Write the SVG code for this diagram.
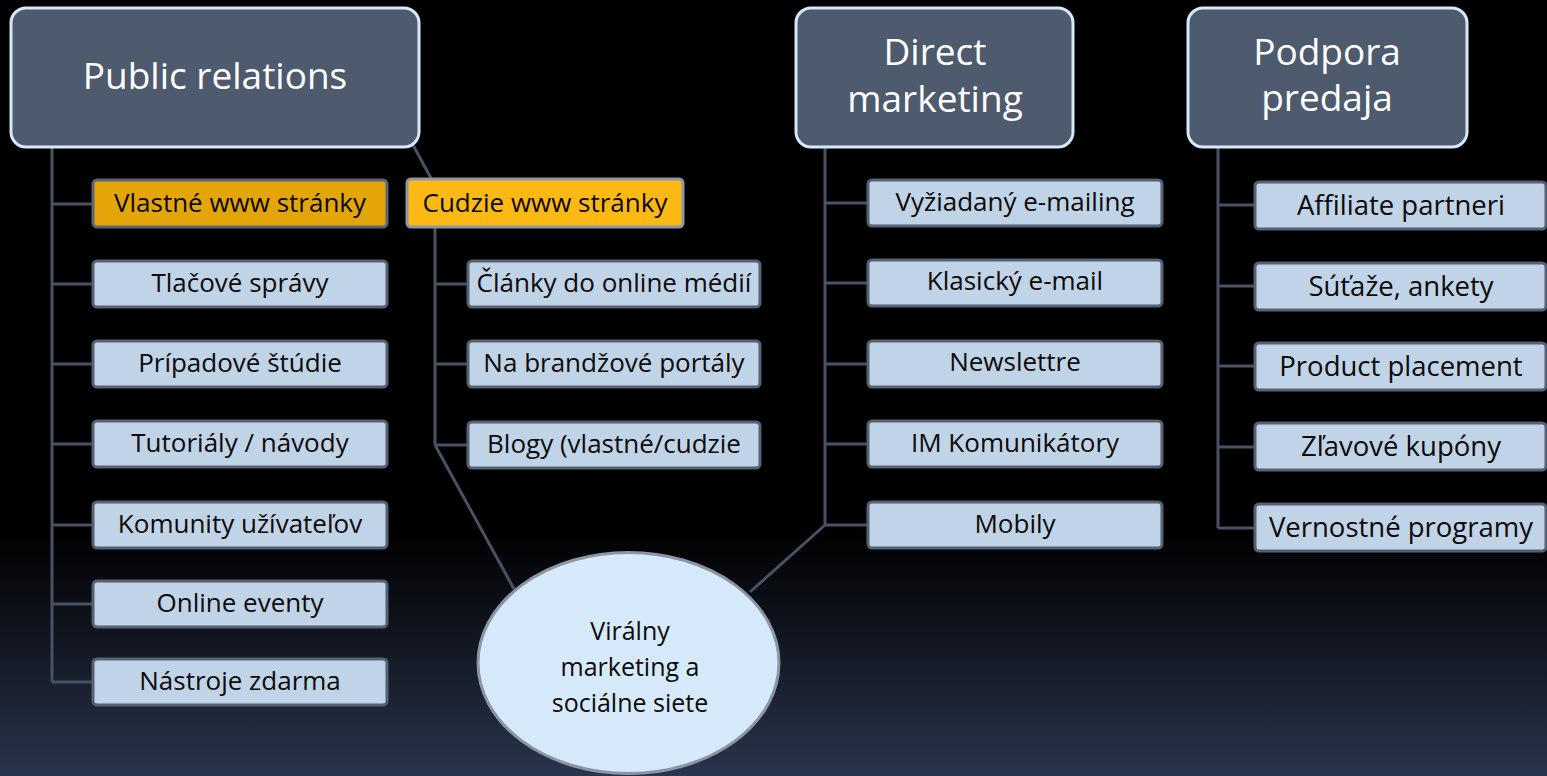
<svg xmlns="http://www.w3.org/2000/svg" width="1547" height="776" viewBox="0 0 1547 776">
  <defs>
    <linearGradient id="bg" x1="0" y1="0" x2="0" y2="1">
      <stop offset="0" stop-color="#000000"/>
      <stop offset="0.68" stop-color="#000000"/>
      <stop offset="0.84" stop-color="#131924"/>
      <stop offset="1" stop-color="#29354c"/>
    </linearGradient>
    <style>
      .hdr { fill: #4e5a6d; stroke: #d4eafa; stroke-width: 3; }
      .hdrt { font-family: "Open Sans", "Liberation Sans", sans-serif; font-size: 37px; fill: #ffffff; text-anchor: middle; }
      .box { fill: #c1d3e6; stroke: #556174; stroke-width: 3; }
      .boxt { font-family: "Open Sans", "Liberation Sans", sans-serif; font-size: 26px; fill: #0a0a0a; text-anchor: middle; }
      .boxt2 { font-family: "Open Sans", "Liberation Sans", sans-serif; font-size: 27.5px; fill: #0a0a0a; text-anchor: middle; }
      .vt { font-family: "Open Sans", "Liberation Sans", sans-serif; font-size: 25px; fill: #0a0a0a; text-anchor: middle; }
      .conn { stroke: #485264; stroke-width: 3; fill: none; }
    </style>
  </defs>
  <rect x="0" y="0" width="1547" height="776" fill="url(#bg)"/>

  <g id="connectors">
    <path class="conn" d="M52 147 V682 M52 204 H93 M52 284 H93 M52 364 H93 M52 444 H93 M52 525 H93 M52 604 H93 M52 682 H93"/>
    <path class="conn" d="M413 145 L432 180"/>
    <path class="conn" d="M435 227 V445 M435 284 H468 M435 364 H468 M435 445 H468 M435 445 L514 589"/>
    <path class="conn" d="M825 147 V525 M825 203 H868 M825 283 H868 M825 364 H868 M825 444 H868 M825 525 H868 M825 525 L750 592"/>
    <path class="conn" d="M1218 147 V528 M1218 205 H1255 M1218 286 H1255 M1218 366 H1255 M1218 447 H1255 M1218 528 H1255"/>
  </g>

  <g id="pr">
    <rect class="hdr" x="11" y="8" width="408" height="139" rx="15"/>
    <text class="hdrt" x="215" y="89">Public relations</text>
  </g>
  <g id="vlastne">
    <rect x="93" y="180" width="294" height="47" rx="4" fill="#e3a508" stroke="#5a6578" stroke-width="3"/>
    <text class="boxt" x="240" y="212">Vlastné www stránky</text>
  </g>
  <g id="cudzie">
    <rect x="407" y="179" width="276" height="48" rx="4" fill="#fdb913" stroke="#8d97a8" stroke-width="3"/>
    <text class="boxt" x="545" y="212">Cudzie www stránky</text>
  </g>
  <g id="pr1"><rect class="box" x="93" y="261" width="294" height="46" rx="4"/><text class="boxt" x="240" y="292">Tlačové správy</text></g>
  <g id="pr2"><rect class="box" x="93" y="341" width="294" height="46" rx="4"/><text class="boxt" x="240" y="372">Prípadové štúdie</text></g>
  <g id="pr3"><rect class="box" x="93" y="421" width="294" height="46" rx="4"/><text class="boxt" x="240" y="452">Tutoriály / návody</text></g>
  <g id="pr4"><rect class="box" x="93" y="502" width="294" height="46" rx="4"/><text class="boxt" x="240" y="533">Komunity užívateľov</text></g>
  <g id="pr5"><rect class="box" x="93" y="581" width="294" height="46" rx="4"/><text class="boxt" x="240" y="612">Online eventy</text></g>
  <g id="pr6"><rect class="box" x="93" y="659" width="294" height="46" rx="4"/><text class="boxt" x="240" y="690">Nástroje zdarma</text></g>

  <g id="cu1"><rect class="box" x="468" y="261" width="292" height="46" rx="4"/><text class="boxt" x="614" y="292">Články do online médií</text></g>
  <g id="cu2"><rect class="box" x="468" y="341" width="292" height="46" rx="4"/><text class="boxt" x="614" y="372">Na brandžové portály</text></g>
  <g id="cu3"><rect class="box" x="468" y="422" width="292" height="46" rx="4"/><text class="boxt" x="614" y="453">Blogy (vlastné/cudzie</text></g>

  <g id="dm">
    <rect class="hdr" x="796" y="8" width="277" height="139" rx="15"/>
    <text class="hdrt" x="935" y="65">Direct</text>
    <text class="hdrt" x="935" y="112">marketing</text>
  </g>
  <g id="dm1"><rect class="box" x="868" y="180" width="294" height="46" rx="4"/><text class="boxt" x="1015" y="211">Vyžiadaný e-mailing</text></g>
  <g id="dm2"><rect class="box" x="868" y="260" width="294" height="46" rx="4"/><text class="boxt" x="1015" y="290">Klasický e-mail</text></g>
  <g id="dm3"><rect class="box" x="868" y="341" width="294" height="46" rx="4"/><text class="boxt" x="1015" y="371">Newslettre</text></g>
  <g id="dm4"><rect class="box" x="868" y="421" width="294" height="46" rx="4"/><text class="boxt" x="1015" y="452">IM Komunikátory</text></g>
  <g id="dm5"><rect class="box" x="868" y="502" width="294" height="46" rx="4"/><text class="boxt" x="1015" y="533">Mobily</text></g>

  <g id="pp">
    <rect class="hdr" x="1188" y="8" width="279" height="139" rx="15"/>
    <text class="hdrt" x="1327" y="65">Podpora</text>
    <text class="hdrt" x="1327" y="111">predaja</text>
  </g>
  <g id="pp1"><rect class="box" x="1255" y="182" width="291" height="47" rx="4"/><text class="boxt2" x="1401" y="215">Affiliate  partneri</text></g>
  <g id="pp2"><rect class="box" x="1255" y="263" width="291" height="47" rx="4"/><text class="boxt2" x="1401" y="296">Súťaže, ankety</text></g>
  <g id="pp3"><rect class="box" x="1255" y="343" width="291" height="47" rx="4"/><text class="boxt2" x="1401" y="376">Product placement</text></g>
  <g id="pp4"><rect class="box" x="1255" y="423" width="291" height="47" rx="4"/><text class="boxt2" x="1401" y="456">Zľavové kupóny</text></g>
  <g id="pp5"><rect class="box" x="1255" y="504" width="291" height="47" rx="4"/><text class="boxt2" x="1401" y="537">Vernostné programy</text></g>

  <g id="viral">
    <ellipse cx="628.5" cy="663" rx="150.5" ry="110.5" fill="#d6eafc" stroke="#8c95a6" stroke-width="3"/>
    <text class="vt" x="630" y="640">Virálny</text>
    <text class="vt" x="630" y="676">marketing a</text>
    <text class="vt" x="630" y="712">sociálne siete</text>
  </g>
</svg>
